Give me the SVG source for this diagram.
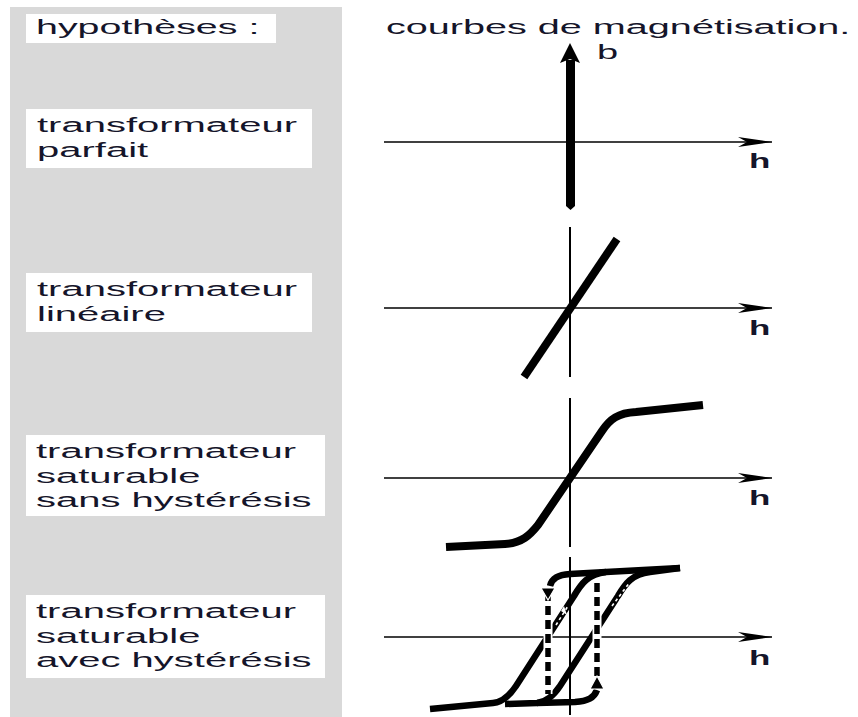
<svg xmlns="http://www.w3.org/2000/svg" width="858" height="717" viewBox="0 0 858 717">
<style>
.lbl{font-family:"Liberation Sans",Arial,sans-serif;font-size:20px;fill:#15152a}
.hl{font-family:"Liberation Sans",Arial,sans-serif;font-size:20px;font-weight:bold;fill:#15152a}
.box{fill:#ffffff}
.axis{stroke:#000;stroke-width:1.6;fill:none}
.vax{stroke:#000;stroke-width:2;fill:none}
.curve{stroke:#000;stroke-width:8;fill:none;stroke-linejoin:round}
.hyst{stroke:#000;stroke-width:6.5;fill:none;stroke-linejoin:round}
.dashbg{stroke:#fff;stroke-width:9;fill:none}
.dash{stroke:#000;stroke-width:5.5;fill:none;stroke-dasharray:9 5}
.wdash{stroke:#fff;stroke-width:1.6;fill:none;stroke-dasharray:3 3}
</style>
<defs>
<marker id="arr" markerUnits="userSpaceOnUse" markerWidth="34" markerHeight="12" refX="34" refY="6" orient="auto" viewBox="0 0 34 12">
<path d="M0,1 L34,6 L0,11 L9,6 Z" fill="#000"/>
</marker>
</defs>
<rect x="0" y="0" width="858" height="717" fill="#fff"/>
<rect id="panel" x="10" y="7" width="332" height="710" fill="#d9d9d9"/>

<g id="title-hypotheses">
<rect class="box" x="26" y="14" width="250" height="29"/>
<text class="lbl" transform="translate(36,34) scale(1.97,1)">hypothèses :</text>
</g>
<g id="title-courbes">
<text class="lbl" transform="translate(386,34) scale(1.98,1)">courbes de magnétisation.</text>
</g>

<g id="node-parfait">
<rect class="box" x="26" y="109" width="286" height="59"/>
<text class="lbl" transform="translate(37,132) scale(2,1)">transformateur</text>
<text class="lbl" transform="translate(37,157) scale(2,1)">parfait</text>
</g>
<g id="node-lineaire">
<rect class="box" x="26" y="273" width="286" height="59"/>
<text class="lbl" transform="translate(37,296) scale(2,1)">transformateur</text>
<text class="lbl" transform="translate(37,321) scale(2,1)">linéaire</text>
</g>
<g id="node-saturable">
<rect class="box" x="26" y="435" width="299" height="81"/>
<text class="lbl" transform="translate(36,458) scale(2,1)">transformateur</text>
<text class="lbl" transform="translate(36,483) scale(2,1)">saturable</text>
<text class="lbl" transform="translate(36,507) scale(2,1)">sans hystérésis</text>
</g>
<g id="node-hysteresis">
<rect class="box" x="26" y="595" width="299" height="83"/>
<text class="lbl" transform="translate(36,618) scale(2,1)">transformateur</text>
<text class="lbl" transform="translate(36,643) scale(2,1)">saturable</text>
<text class="lbl" transform="translate(36,667) scale(2,1)">avec hystérésis</text>
</g>

<g id="connectors">
<line class="axis" x1="384" y1="142" x2="772" y2="142" marker-end="url(#arr)"/>
<line class="axis" x1="384" y1="308" x2="772" y2="308" marker-end="url(#arr)"/>
<line class="axis" x1="384" y1="478" x2="772" y2="478" marker-end="url(#arr)"/>
<line class="axis" x1="384" y1="637" x2="772" y2="637" marker-end="url(#arr)"/>
<line class="vax" x1="570" y1="227" x2="570" y2="377"/>
<line class="vax" x1="570" y1="398" x2="570" y2="547"/>
<line class="vax" x1="570" y1="557" x2="570" y2="715"/>
</g>

<g id="graph-parfait">
<polygon points="570,43 580,63 570,59 560,63" fill="#000"/>
<path d="M566,60 L575,60 L575,206 L570.5,210 L566,206 Z" fill="#000"/>
<text class="lbl" transform="translate(597,59) scale(1.9,1)">b</text>
<text class="hl" transform="translate(749,168) scale(1.75,1)">h</text>
</g>

<g id="graph-lineaire">
<line class="curve" x1="524" y1="377" x2="617" y2="239"/>
<text class="hl" transform="translate(749,335) scale(1.75,1)">h</text>
</g>

<g id="graph-saturable">
<path class="curve" d="M446,547 L505,544 C522,543 530,535 538,525 L602,431 C610,419 618,413 636,412 L703,405"/>
<text class="hl" transform="translate(749,505) scale(1.75,1)">h</text>
</g>

<g id="graph-hysteresis">
<path class="hyst" d="M430,709 L493,703 C503,702 510,695 516,686 L574,596 C581,584 588,574 606,572 L680,568"/>
<path class="hyst" d="M505,704 L537,703 C547,702 554,695 560,686 L618,596 C625,584 632,574 650,572 L680,568"/>
<path class="hyst" d="M550,586 C552,578 558,575 570,574 L606,572"/>
<path class="hyst" d="M537,703 L575,702 C588,701 594,698 597,690"/>
<line class="dashbg" x1="548" y1="590" x2="548" y2="694"/>
<line class="dash" x1="548" y1="592" x2="548" y2="694"/>
<line class="dashbg" x1="597" y1="583" x2="597" y2="686"/>
<line class="dash" x1="597" y1="583" x2="597" y2="677"/>
<polygon points="541,588 555,588 548,600" fill="#000" stroke="#fff" stroke-width="1.2"/>
<polygon points="597,676 590,689 604,689" fill="#000" stroke="#fff" stroke-width="1.2"/>
<path class="wdash" d="M556,625 L568,606"/>
<polygon points="561,611 567,615 564,606" fill="#fff"/>
<path class="wdash" d="M612,606 L630,582"/>
<polygon points="619,600 625,604 626,594" fill="#fff"/>
<text class="hl" transform="translate(749,665) scale(1.75,1)">h</text>
</g>
</svg>
